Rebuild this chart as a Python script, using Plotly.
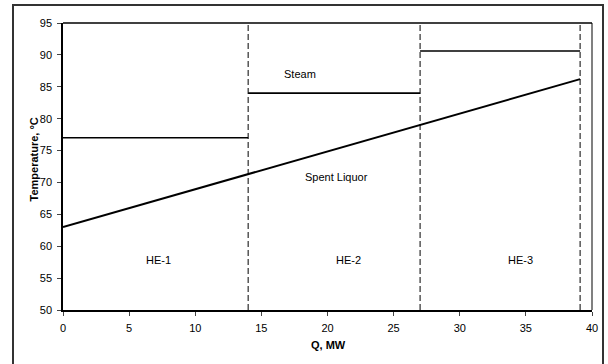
import plotly.graph_objects as go

# Data
q_bounds = [0, 14, 27, 39.1]          # Q, MW at exchanger boundaries
steam_temps = [77, 84, 90.6]          # steam temperature in HE-1, HE-2, HE-3
liquor_temps = [63, 71.3, 79, 86.2]   # spent liquor temperature at boundaries
exchangers = ["HE-1", "HE-2", "HE-3"]
x_ticks = [0, 5, 10, 15, 20, 25, 30, 35, 40]
y_ticks = [50, 55, 60, 65, 70, 75, 80, 85, 90, 95]
x_title = "Q, MW"
y_title = "Temperature, °C"

FONT = "Liberation Sans, Arial, sans-serif"
W, H = 608, 364
PL, PR, PT, PB = 63, 592, 23, 310   # plot area in pixels


def px(x):
    return x / W


def py(y):
    return (H - y) / H


fig = go.Figure()

# Dashed exchanger boundaries
for q in q_bounds[1:]:
    fig.add_trace(go.Scatter(
        x=[q, q], y=[y_ticks[0], y_ticks[-1]], mode="lines",
        line=dict(color="black", width=1, dash="6px,3px"),
        showlegend=False, hoverinfo="skip"))

# Steam lines
sx, sy = [], []
for i, t in enumerate(steam_temps):
    sx += [q_bounds[i], q_bounds[i + 1], None]
    sy += [t, t, None]
fig.add_trace(go.Scatter(x=sx, y=sy, mode="lines",
                         line=dict(color="black", width=1.6),
                         name="Steam", showlegend=False))

# Spent liquor line
fig.add_trace(go.Scatter(x=q_bounds, y=liquor_temps, mode="lines",
                         line=dict(color="black", width=2),
                         name="Spent Liquor", showlegend=False))

# Outer chart frame on a full-page helper subplot (pixel coordinates)
fig.add_trace(go.Scatter(x=[13, 13, 603, 603], y=[H, 5, 5, H], mode="lines",
                         line=dict(color="#333333", width=2),
                         xaxis="x2", yaxis="y2", showlegend=False,
                         hoverinfo="skip", cliponaxis=False))

ann_font = dict(family=FONT, size=11, color="black")
fig.add_annotation(x=17.9, y=87.0, text="Steam", showarrow=False, font=ann_font)
fig.add_annotation(x=20.7, y=70.9, text="Spent Liquor", showarrow=False, font=ann_font)
he_x = [7.2, 21.6, 34.6]
for name, xx in zip(exchangers, he_x):
    fig.add_annotation(x=xx, y=57.8, text=name, showarrow=False, font=ann_font)

# Axis titles
fig.add_annotation(xref="paper", yref="paper", x=px(328.5), y=py(345),
                   xanchor="center", yanchor="middle",
                   text="<b>" + x_title + "</b>", showarrow=False,
                   font=dict(family=FONT, size=11, color="black"))
fig.add_annotation(xref="paper", yref="paper", x=px(33.5), y=py(160),
                   xanchor="center", yanchor="middle",
                   text="<b>" + y_title + "</b>", showarrow=False, textangle=-90,
                   font=dict(family=FONT, size=11, color="black"))

# Plot area right edge (grey) and top edge
fig.add_shape(type="line", xref="paper", yref="paper",
              x0=px(PR), x1=px(PR), y0=py(PB), y1=py(PT),
              line=dict(color="#808080", width=2))
fig.add_shape(type="line", xref="paper", yref="paper",
              x0=px(PL), x1=px(PR), y0=py(PT), y1=py(PT),
              line=dict(color="black", width=1.5))

fig.update_layout(
    width=W, height=H,
    margin=dict(l=0, r=0, t=0, b=0),
    paper_bgcolor="white", plot_bgcolor="rgba(0,0,0,0)",
    font=dict(family=FONT, size=11, color="black"),
    showlegend=False,
    xaxis=dict(domain=[px(PL), px(PR)], range=[0, 40], tickvals=x_ticks,
               ticks="outside", ticklen=4, tickwidth=1, showgrid=False,
               zeroline=False, showline=True, linecolor="black", linewidth=1.5,
               ticklabelstandoff=3, tickfont=dict(size=11), automargin=False),
    yaxis=dict(domain=[py(PB), py(PT)], range=[50, 95], tickvals=y_ticks,
               ticks="outside", ticklen=4, tickwidth=1, showgrid=False,
               zeroline=False, showline=True, linecolor="black", linewidth=1.5,
               ticklabelstandoff=3, tickfont=dict(size=11), automargin=False),
    xaxis2=dict(domain=[0, 1], range=[0, W], anchor="y2", visible=False,
                fixedrange=True),
    yaxis2=dict(domain=[0, 1], range=[H, 0], anchor="x2", visible=False,
                fixedrange=True),
)

fig.write_html("out.html")
